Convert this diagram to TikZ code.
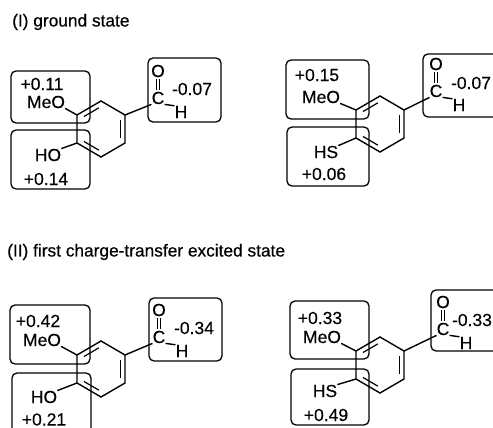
\documentclass[tikz,border=0pt]{standalone}
\usepackage{fontspec}
\setmainfont{Liberation Sans}
\newfontfamily\headfont[FakeBold=0.5]{Liberation Sans}
\newfontfamily\labelfont[FakeBold=0.25]{Liberation Sans}
\usetikzlibrary{positioning}

\tikzset{
  chargebox/.style={draw,rounded corners=5pt,line width=1.3pt,inner sep=0pt},
  chargelabel/.style={inner sep=0pt,font=\labelfont\fontsize{17.5}{19}\selectfont},
  heading/.style={inner sep=0pt,anchor=west,font=\headfont\fontsize{17.3}{19}\selectfont},
  bond/.style={line width=1.4pt},
  inner bond/.style={line width=1.2pt,shorten >=2.5pt,shorten <=2.5pt},
  carbonyl/.style={line width=1pt,shorten >=1.5pt,shorten <=1.5pt},
}

% ring with its three inner double bond lines
\newcommand{\ringat}[3]{
  \foreach \i/\dx/\dy in {1/-24/-14,2/0/-28,3/24/-14,4/24/14,5/0/28,6/-24/14} {
    \coordinate (#1v\i) at (#2+\dx,#3+\dy);
    \coordinate (#1i\i) at (#2+.8*\dx,#3+.8*\dy);
  }
  \draw[bond] (#1v1) -- (#1v2) -- (#1v3) -- (#1v4) -- (#1v5) -- (#1v6) -- cycle;
  \draw[inner bond] (#1i1) -- (#1i2);
  \draw[inner bond] (#1i3) -- (#1i4);
  \draw[inner bond] (#1i5) -- (#1i6);
}

% formyl group: C, O above it, H below right, bonds to the ring
\newcommand{\formyl}[3]{
  \node [chargelabel] (#1c) at (#2,#3) {C};
  \node [chargelabel, above=27pt of #1c.center, anchor=center] (#1o) {O};
  \node [chargelabel, below right=14pt and 23pt of #1c.center, anchor=center] (#1h) {H};
  \draw[bond] (#1v3) -- (#1c.south west);
  \draw[bond] (#1c.south east) -- (#1h.north west);
  \draw[carbonyl] ([xshift=-1.7pt]#1o.south) -- ([xshift=-1.7pt]#1c.north);
  \draw[carbonyl] ([xshift=1.7pt]#1o.south) -- ([xshift=1.7pt]#1c.north);
}

\begin{document}
\begin{tikzpicture}[x=1pt,y=-1pt]
  \useasboundingbox (0,0) rectangle (493,428);
  \clip (0,0) rectangle (493,428);

  \node [heading] (title1) at (12,22) {(I) ground state};
  \node [heading] (title2) at (7,252) {(II) first charge-transfer excited state};

  % (I) left
  \node [chargebox,minimum width=79pt,minimum height=52pt] (a1) at (50.5,97) {};
  \node [chargebox,minimum width=79pt,minimum height=59pt] (a2) at (50.5,159.5) {};
  \node [chargebox,minimum width=73pt,minimum height=64pt] (a3) at (184.5,90) {};
  \ringat{a}{101}{129}
  \formyl{a}{158}{98}
  \node [chargelabel] (ameo) at (46,102) {MeO};
  \node [chargelabel] (aho) at (48,155) {HO};
  \node [chargelabel] (aq1) at (42,84) {+0.11};
  \node [chargelabel] (aq2) at (46,179) {+0.14};
  \node [chargelabel] (aq3) at (192,89) {-0.07};
  \draw[bond] (ameo.south east) -- (av1);
  \draw[bond] (aho.north east) -- (av6);

  % (I) right
  \node [chargebox,minimum width=83pt,minimum height=59pt] (b1) at (327.5,89.5) {};
  \node [chargebox,minimum width=82pt,minimum height=59pt] (b2) at (328,156.5) {};
  \node [chargebox,minimum width=80pt,minimum height=63pt] (b3) at (463,85.5) {};
  \ringat{b}{380}{124}
  \formyl{b}{436}{91}
  \node [chargelabel] (bmeo) at (321,97) {MeO};
  \node [chargelabel] (bhs) at (326,152) {HS};
  \node [chargelabel] (bq1) at (317,75) {+0.15};
  \node [chargelabel] (bq2) at (324,174) {+0.06};
  \node [chargelabel] (bq3) at (471,83) {-0.07};
  \draw[bond] (bmeo.south east) -- (bv1);
  \draw[bond] (bhs.north east) -- (bv6);

  % (II) left
  \node [chargebox,minimum width=80pt,minimum height=59pt] (c1) at (50,334.5) {};
  \node [chargebox,minimum width=79pt,minimum height=64pt] (c2) at (51.5,405) {};
  \node [chargebox,minimum width=73pt,minimum height=63pt] (c3) at (185.5,329.5) {};
  \ringat{c}{101}{369}
  \formyl{c}{159}{337}
  \node [chargelabel] (cmeo) at (42,340) {MeO};
  \node [chargelabel] (cho) at (44,397) {HO};
  \node [chargelabel] (cq1) at (38,321) {+0.42};
  \node [chargelabel] (cq2) at (44,419.5) {+0.21};
  \node [chargelabel] (cq3) at (194,328) {-0.34};
  \draw[bond] (cmeo.south east) -- (cv1);
  \draw[bond] (cho.north east) -- (cv6);

  % (II) right
  \node [chargebox,minimum width=79pt,minimum height=58pt] (d1) at (329.5,330) {};
  \node [chargebox,minimum width=78pt,minimum height=56pt] (d2) at (330,397) {};
  \node [chargebox,minimum width=80pt,minimum height=61pt] (d3) at (471,320.5) {};
  \ringat{d}{380}{365}
  \formyl{d}{443}{329}
  \node [chargelabel] (dmeo) at (322,337) {MeO};
  \node [chargelabel] (dhs) at (325,391) {HS};
  \node [chargelabel] (dq1) at (320,318) {+0.33};
  \node [chargelabel] (dq2) at (326,415) {+0.49};
  \node [chargelabel] (dq3) at (472,320) {-0.33};
  \draw[bond] (dmeo.south east) -- (dv1);
  \draw[bond] (dhs.north east) -- (dv6);
\end{tikzpicture}
\end{document}
